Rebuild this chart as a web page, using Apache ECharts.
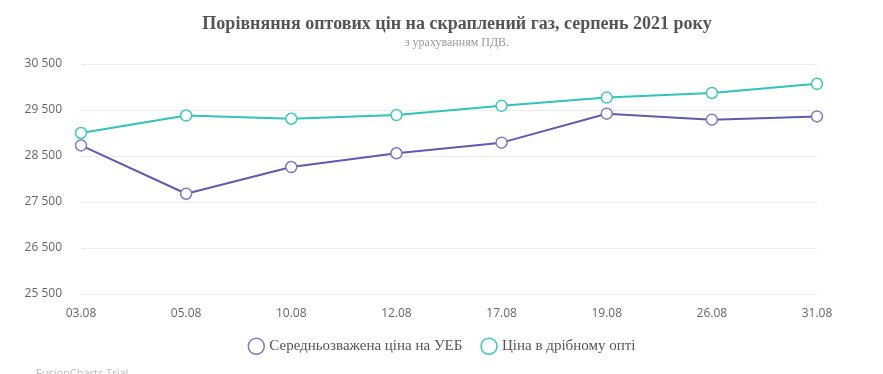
<!DOCTYPE html>
<html>
<head>
<meta charset="utf-8">
<script src="https://cdn.jsdelivr.net/npm/echarts@6/dist/echarts.min.js"></script>
<style>html,body{margin:0;padding:0;background:#fff}#c{width:883px;height:374px}</style>
</head>
<body>
<div id="c"></div>
<script>
const categories = ['03.08','05.08','10.08','12.08','17.08','19.08','26.08','31.08'];
const uebPrice = [28730, 27680, 28260, 28560, 28790, 29420, 29290, 29360];
const retailPrice = [29000, 29380, 29310, 29390, 29590, 29770, 29870, 30070];
const seriesNames = ['Середньозважена ціна на УЕБ', 'Ціна в дрібному опті'];
const titleText = 'Порівняння оптових цін на скраплений газ, серпень 2021 року';
const subtitleText = 'з урахуванням ПДВ.';
const yMin = 25500, yMax = 30500, yStep = 1000;

const chart = echarts.init(document.getElementById('c'), null, {renderer: 'canvas'});
const fmt = v => String(v).replace(/\B(?=(\d{3})+(?!\d))/g, ' ');
chart.setOption({
  animation: false,
  backgroundColor: '#fff',
  title: {
    text: titleText,
    subtext: subtitleText,
    left: 452, textAlign: 'center', top: 10,
    itemGap: 4,
    textStyle: {fontFamily: 'Liberation Serif', fontWeight: 'bold', fontSize: 18, color: '#555'},
    subtextStyle: {fontFamily: 'Liberation Serif', fontSize: 12, color: '#9a9a9a'}
  },
  legend: {
    bottom: 14, left: 'center',
    icon: 'circle',
    itemWidth: 16, itemHeight: 16, itemGap: 18,
    textStyle: {fontFamily: 'Liberation Serif', fontSize: 15, color: '#555'},
    data: [
      {name: seriesNames[0], itemStyle: {color: '#fff', borderColor: '#7b7bc4', borderWidth: 1.5}},
      {name: seriesNames[1], itemStyle: {color: '#fff', borderColor: '#3cc9be', borderWidth: 1.5}}
    ]
  },
  grid: {left: 81, right: 66, top: 64, bottom: 80, containLabel: false},
  xAxis: {
    type: 'category', data: categories, boundaryGap: false,
    axisLine: {show: false}, axisTick: {show: false},
    axisLabel: {color: '#666', fontFamily: 'Source Sans Pro, Open Sans, sans-serif', fontSize: 12, margin: 14}
  },
  yAxis: {
    type: 'value', min: yMin, max: yMax, interval: yStep,
    axisLine: {show: false}, axisTick: {show: false},
    axisLabel: {color: '#666', fontFamily: 'Open Sans, sans-serif', fontSize: 12, margin: 19, formatter: fmt},
    splitLine: {lineStyle: {color: '#ececec', width: 1}}
  },
  series: [
    {
      name: seriesNames[0], type: 'line', data: uebPrice,
      symbol: 'circle', symbolSize: 11,
      lineStyle: {color: '#5b5bb3', width: 2},
      itemStyle: {color: '#fff', borderColor: '#7b7bc4', borderWidth: 1.5}
    },
    {
      name: seriesNames[1], type: 'line', data: retailPrice,
      symbol: 'circle', symbolSize: 11,
      lineStyle: {color: '#2ec4b9', width: 2},
      itemStyle: {color: '#fff', borderColor: '#3cc9be', borderWidth: 1.5}
    }
  ],
  graphic: [{
    type: 'text', left: 36, top: 368,
    style: {text: 'FusionCharts Trial', fill: '#bbb', font: '11px Open Sans, sans-serif'}
  }]
});
</script>
</body>
</html>
